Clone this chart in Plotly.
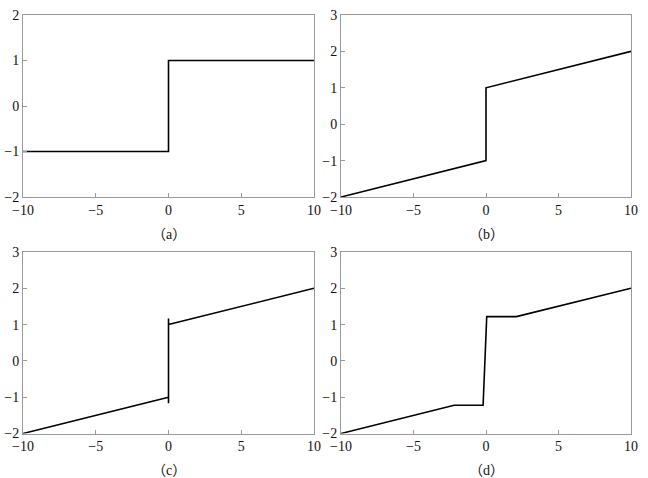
import plotly.graph_objects as go

# Panel data (piecewise-linear curves)
a_x = [-10, 0, 0, 10]
a_y = [-1, -1, 1, 1]

b_x = [-10, 0, 0, 10]
b_y = [-2, -1, 1, 2]

c_x = [-10, 0, 0, 0, 0, 10]
c_y = [-2, -1, -1.17, 1.17, 1, 2]

d_x = [-10, -2.2, -0.2, 0.05, 2.1, 10]
d_y = [-2, -1.22, -1.22, 1.22, 1.22, 2]

panel_labels = ["（a）", "（b）", "（c）", "（d）"]
x_ticks = [-10, -5, 0, 5, 10]
y_ticks_a = [-2, -1, 0, 1, 2]
y_ticks_other = [-2, -1, 0, 1, 2, 3]

W, H = 648, 478
xdom = [[23 / W, 314 / W], [341 / W, 631 / W]]
ydom = [[1 - 197 / H, 1 - 15 / H], [1 - 433.5 / H, 1 - 252 / H]]

fig = go.Figure()
panels = [
    (a_x, a_y, xdom[0], ydom[0], [-2, 2], y_ticks_a),
    (b_x, b_y, xdom[1], ydom[0], [-2, 3], y_ticks_other),
    (c_x, c_y, xdom[0], ydom[1], [-2, 3], y_ticks_other),
    (d_x, d_y, xdom[1], ydom[1], [-2, 3], y_ticks_other),
]

font = dict(family="Liberation Serif, DejaVu Serif, serif", size=14, color="#111")
label_font = dict(family="Liberation Serif, Noto Sans CJK SC, serif", size=14, color="#111")
axis_common = dict(
    showline=True, mirror=True, linecolor="#9a9a9a", linewidth=1,
    ticks="inside", ticklen=4, tickcolor="#9a9a9a", showgrid=False,
    zeroline=False, tickfont=font, automargin=False,
)

for i, (xs, ys, xd, yd, yr, yt) in enumerate(panels):
    n = "" if i == 0 else str(i + 1)
    fig.add_trace(go.Scatter(
        x=xs, y=ys, mode="lines",
        line=dict(color="black", width=1.6),
        xaxis="x" + n, yaxis="y" + n, showlegend=False,
    ))
    fig.update_layout(**{
        "xaxis" + n: dict(domain=xd, range=[-10, 10], tickvals=x_ticks,
                          anchor="y" + n, **axis_common),
        "yaxis" + n: dict(domain=yd, range=yr, tickvals=yt,
                          anchor="x" + n, **axis_common),
    })
    fig.add_annotation(
        text=panel_labels[i], xref="paper", yref="paper",
        x=(xd[0] + xd[1]) / 2, y=yd[0] - 37 / H,
        showarrow=False, font=label_font, xanchor="center", yanchor="middle",
    )

fig.update_layout(
    width=W, height=H, margin=dict(l=0, r=0, t=0, b=0),
    paper_bgcolor="white", plot_bgcolor="white", font=font,
)
fig.write_html(
    "out.html",
    config={"displayModeBar": False},
    post_script="document.body.style.margin='0';document.body.style.padding='0';",
)
